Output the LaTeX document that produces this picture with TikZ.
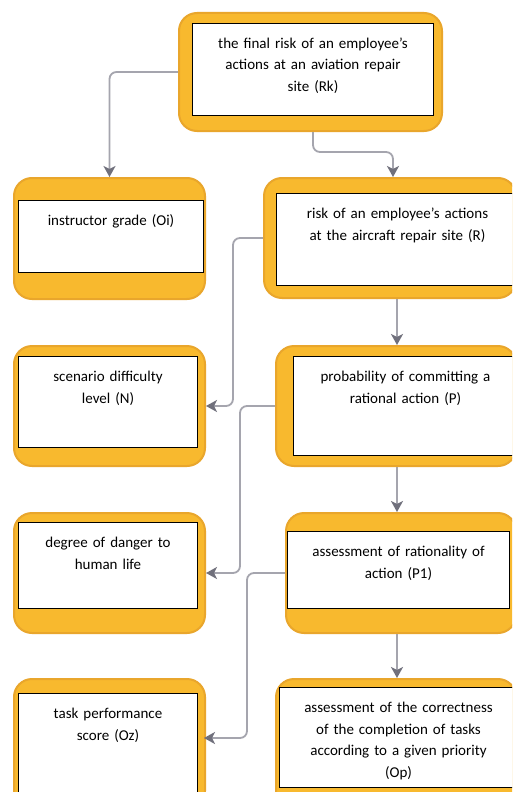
\documentclass[tikz,border=0pt]{standalone}
\usepackage{fontspec}
\setmainfont{Carlito}
\usepackage{xcolor}
\usepackage{tikz}
\usetikzlibrary{arrows.meta, positioning, calc}

\definecolor{tileorange}{RGB}{248,185,46}
\definecolor{tileedge}{RGB}{233,166,44}
\definecolor{linkgray}{RGB}{165,165,174}
\definecolor{tipgray}{RGB}{112,112,124}

\begin{document}
\begin{tikzpicture}[
    x=1pt, y=-1pt,
    tile/.style={
        rectangle,
        draw=tileedge,
        fill=tileorange,
        line width=2pt,
        rounded corners=18pt,
        anchor=north west,
        inner sep=0pt
    },
    card/.style={
        rectangle,
        draw=black,
        fill=white,
        line width=1pt,
        anchor=north west,
        inner xsep=5pt,
        inner ysep=11pt,
        text height=14pt,
        align=center,
        font=\fontsize{15}{21.5}\selectfont
    },
    link/.style={-{Stealth[length=11pt, width=12pt, inset=3pt, color=tipgray]}, draw=linkgray, line width=1.8pt, rounded corners=7pt}
]

\useasboundingbox (0,0) rectangle (512,792);
\fill[white] (0,0) rectangle (512,792);
\clip (0,0) rectangle (512,792);

% top
\node[tile, minimum width=263pt, minimum height=118pt] (rkTile) at (178,12) {};
\node[card, text width=231pt, text depth=56pt] (rk) at (192,23) {
    the final risk of an employee's\\
    actions at an aviation repair\\
    site (Rk)
};

% left column
\node[tile, minimum width=191pt, minimum height=121pt] (oiTile) at (13,177) {};
\node[card, text width=175pt, text depth=36pt] (oi) at (18,200) {instructor grade (Oi)};

\node[tile, minimum width=191pt, minimum height=120pt] (nTile) at (13,345) {};
\node[card, text width=169pt, text depth=55pt] (n) at (18,356) {
    scenario difficulty\\
    level (N)
};

\node[tile, minimum width=191pt, minimum height=120pt] (dangerTile) at (13,512) {};
\node[card, text width=169pt, text depth=50pt] (danger) at (18,522) {
    degree of danger to\\
    human life
};

\node[tile, minimum width=191pt, minimum height=130pt] (ozTile) at (13,678) {};
\node[card, text width=169pt, text depth=69pt] (oz) at (18,693) {
    task performance\\
    score (Oz)
};

% right column
\node[tile, minimum width=252pt, minimum height=120pt] (rTile) at (263,177) {};
\node[card, text width=232pt, text depth=56pt] (r) at (276,193) {
    risk of an employee's actions\\
    at the aircraft repair site (R)
};

\node[tile, minimum width=240pt, minimum height=120pt] (pTile) at (275,345) {};
\node[card, text width=214pt, text depth=63pt] (p) at (293,356) {
    probability of committing a\\
    rational action (P)
};

\node[tile, minimum width=230pt, minimum height=120pt] (p1Tile) at (285,512) {};
\node[card, text width=212pt, text depth=41pt] (p1) at (287,531) {
    assessment of rationality of\\
    action (P1)
};

\node[tile, minimum width=240pt, minimum height=130pt] (opTile) at (275,678) {};
\node[card, text width=228pt, text depth=64pt] (op) at (279,687) {
    assessment of the correctness\\
    of the completion of tasks\\
    according to a given priority\\
    (Op)
};

\coordinate (rkBend) at (313,152);
\coordinate (rIn) at (393,177);
\coordinate (rBus) at (233,0);
\coordinate (pBus) at (240,0);
\coordinate (p1Bus) at (247,0);
\coordinate (rightCol) at (397,0);
\coordinate (ozIn) at (204,738);

\draw[link] (rkTile.west) -| (oiTile.north);
\draw[link] (rkTile.south -| rkBend) -- (rkBend) -| (rIn);
\draw[link] (rTile.west) -| (rBus |- nTile.east) -- (nTile.east);
\draw[link] (rTile.south -| rightCol) -- (pTile.north -| rightCol);
\draw[link] (pTile.west) -| (pBus |- dangerTile.east) -- (dangerTile.east);
\draw[link] (pTile.south -| rightCol) -- (p1Tile.north -| rightCol);
\draw[link] (p1Tile.west) -| (p1Bus |- ozIn) -- (ozIn);
\draw[link] (p1Tile.south -| rightCol) -- (opTile.north -| rightCol);

\end{tikzpicture}
\end{document}
